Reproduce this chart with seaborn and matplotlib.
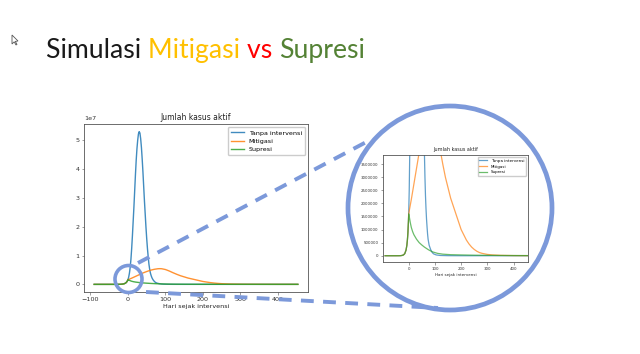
import pandas as pd
import seaborn as sns
import matplotlib.pyplot as plt
from matplotlib.patches import Circle, Polygon

# jumlah kasus aktif sebelum intervensi (sama untuk ketiga skenario)
hari_pre = [-90, -60, -50, -40, -35, -30, -25, -20, -15, -10, -7, -5, -3, -1]
aktif_pre = [0, 20, 100, 600, 1500, 4000, 11000, 30000, 80000, 220000, 400000, 590000, 880000, 1300000]

# tanpa intervensi
hari_tanpa = [0, 2, 4, 6, 8, 10, 12, 14, 16, 18, 20, 22, 24, 26, 28, 30, 32, 34, 36, 38,
              40, 42, 44, 46, 48, 50, 52, 54, 56, 58, 60, 62, 64, 66, 68, 70, 72, 74,
              78, 84, 90, 95, 105, 120, 150, 200, 300, 453]
aktif_tanpa = [1.6e6, 2.5e6, 3.9e6, 5.9e6, 8.7e6, 1.25e7, 1.7e7, 2.2e7, 2.7e7, 3.25e7,
               3.8e7, 4.3e7, 4.7e7, 5.0e7, 5.22e7, 5.3e7, 5.25e7, 5.05e7, 4.75e7, 4.35e7,
               3.9e7, 3.4e7, 2.9e7, 2.45e7, 2.0e7, 1.6e7, 1.25e7, 9.6e6, 7.0e6, 5.2e6,
               3.9e6, 3.0e6, 2.3e6, 1.8e6, 1.4e6, 1.1e6, 8.3e5, 6.3e5,
               4.0e5, 2.3e5, 1.2e5, 7e4, 3e4, 1e4, 2e3, 0, 0, 0]

# mitigasi
hari_mitigasi = [0, 10, 20, 30, 40, 50, 60, 70, 80, 85, 90, 100, 110, 120, 130, 140, 150,
                 160, 170, 180, 190, 200, 210, 220, 230, 240, 250, 260, 270, 280,
                 300, 320, 350, 400, 453]
aktif_mitigasi = [1.6e6, 2.15e6, 2.75e6, 3.35e6, 3.95e6, 4.45e6, 4.9e6, 5.22e6, 5.42e6,
                  5.45e6, 5.42e6, 5.15e6, 4.65e6, 4.05e6, 3.5e6, 3.0e6, 2.6e6, 2.2e6,
                  1.9e6, 1.6e6, 1.3e6, 1.0e6, 8.0e5, 6.0e5, 4.5e5, 3.3e5, 2.4e5, 1.7e5,
                  1.2e5, 9e4, 5e4, 3e4, 1.5e4, 5e3, 2e3]

# supresi
hari_supresi = [0, 3, 6, 10, 15, 20, 30, 40, 50, 60, 75, 90, 110, 130, 160, 200, 250,
                300, 350, 400, 453]
aktif_supresi = [1.6e6, 1.45e6, 1.27e6, 1.08e6, 9.2e5, 8.0e5, 6.3e5, 5.0e5, 4.1e5, 3.3e5,
                 2.3e5, 1.5e5, 9e4, 6e4, 4e4, 3e4, 2e4, 1.5e4, 1e4, 8e3, 6e3]

label_seri = ["Tanpa intervensi", "Mitigasi", "Supresi"]
warna_seri = ["#1f77b4", "#ff7f0e", "#2ca02c"]
inset_yticks = [0, 500000, 1000000, 1500000, 2000000, 2500000, 3000000, 3500000]

judul_teks = ["Simulasi ", "Mitigasi ", "vs ", "Supresi"]
judul_warna = ["#1a1a1a", "#ffc000", "#ff0000", "#548235"]


def buat_seri(hari, aktif):
	return pd.DataFrame({"hari": hari_pre + hari, "aktif": aktif_pre + aktif})


data = [buat_seri(hari_tanpa, aktif_tanpa),
        buat_seri(hari_mitigasi, aktif_mitigasi),
        buat_seri(hari_supresi, aktif_supresi)]

W, H = 640, 354
fig = plt.figure(figsize=(W / 100, H / 100), dpi=100)


def kotak(l, t, r, b):
	return [l / W, 1 - b / H, (r - l) / W, (b - t) / H]


def gambar(ax, lw, fs, alpha):
	for df, lab, c in zip(data, label_seri, warna_seri):
		sns.lineplot(data=df, x="hari", y="aktif", ax=ax, label=lab, color=c,
		             lw=lw, alpha=alpha, estimator=None)
	ax.set_ylabel("")
	ax.set_xlabel("Hari sejak intervensi", fontsize=fs, labelpad=1.5, color="#222222")
	ax.set_title("Jumlah kasus aktif", fontsize=fs * 1.2, pad=3, color="#222222")
	ax.tick_params(labelsize=fs, length=1.8, width=0.4, pad=1.5, labelcolor="#333333",
	               color="#555555")
	for s in ax.spines.values():
		s.set_linewidth(0.6)
		s.set_color("#555555")
	ax.legend(loc="upper right", fontsize=fs, handlelength=2.0, borderpad=0.45,
	          labelspacing=0.45, framealpha=1, edgecolor="#cccccc")


# grafik utama
ax = fig.add_axes(kotak(84, 124, 308, 292))
gambar(ax, 1.0, 4.6, 0.85)
ax.yaxis.get_offset_text().set_fontsize(4.6)
ax.yaxis.get_offset_text().set_color("#333333")

# grafik perbesaran
ax2 = fig.add_axes(kotak(383, 155, 528, 262))
gambar(ax2, 0.9, 2.9, 0.7)
ax2.set_xlim(-98, 455)
ax2.set_ylim(-240000, 3850000)
ax2.set_yticks(inset_yticks)
ax2.ticklabel_format(style="plain", axis="y")
ax2.set_xticks([0, 100, 200, 300, 400])

# lapisan dekorasi slide
ov = fig.add_axes([0, 0, 1, 1])
ov.set_xlim(0, W)
ov.set_ylim(H, 0)
ov.axis("off")
ov.patch.set_alpha(0)

biru = "#7c99da"
ov.add_patch(Circle((450, 208), 102, fill=False, lw=3.4, ec=biru))
ov.add_patch(Circle((128.5, 279), 13.5, fill=False, lw=2.6, ec=biru))
ov.plot([138, 372], [263, 139], color=biru, lw=2.8, dashes=(3.3, 2.4), solid_capstyle="butt")
ov.plot([146, 438], [292, 308], color=biru, lw=2.8, dashes=(3.3, 2.4), solid_capstyle="butt")

# kursor kecil di pojok kiri
ov.add_patch(Polygon([(12, 35), (12, 44), (14.2, 41.8), (16, 45), (17, 44.4), (15.3, 41.4), (18, 41)],
                     closed=True, fill=True, fc="white", ec="#555555", lw=0.6))

renderer = fig.canvas.get_renderer()
x0 = 46
for teks, warna in zip(judul_teks, judul_warna):
	t = ov.text(x0, 58, teks, color=warna, fontsize=19.2, family="Lato", va="baseline")
	x0 += t.get_window_extent(renderer).width

fig.savefig("out.png", dpi=100)
